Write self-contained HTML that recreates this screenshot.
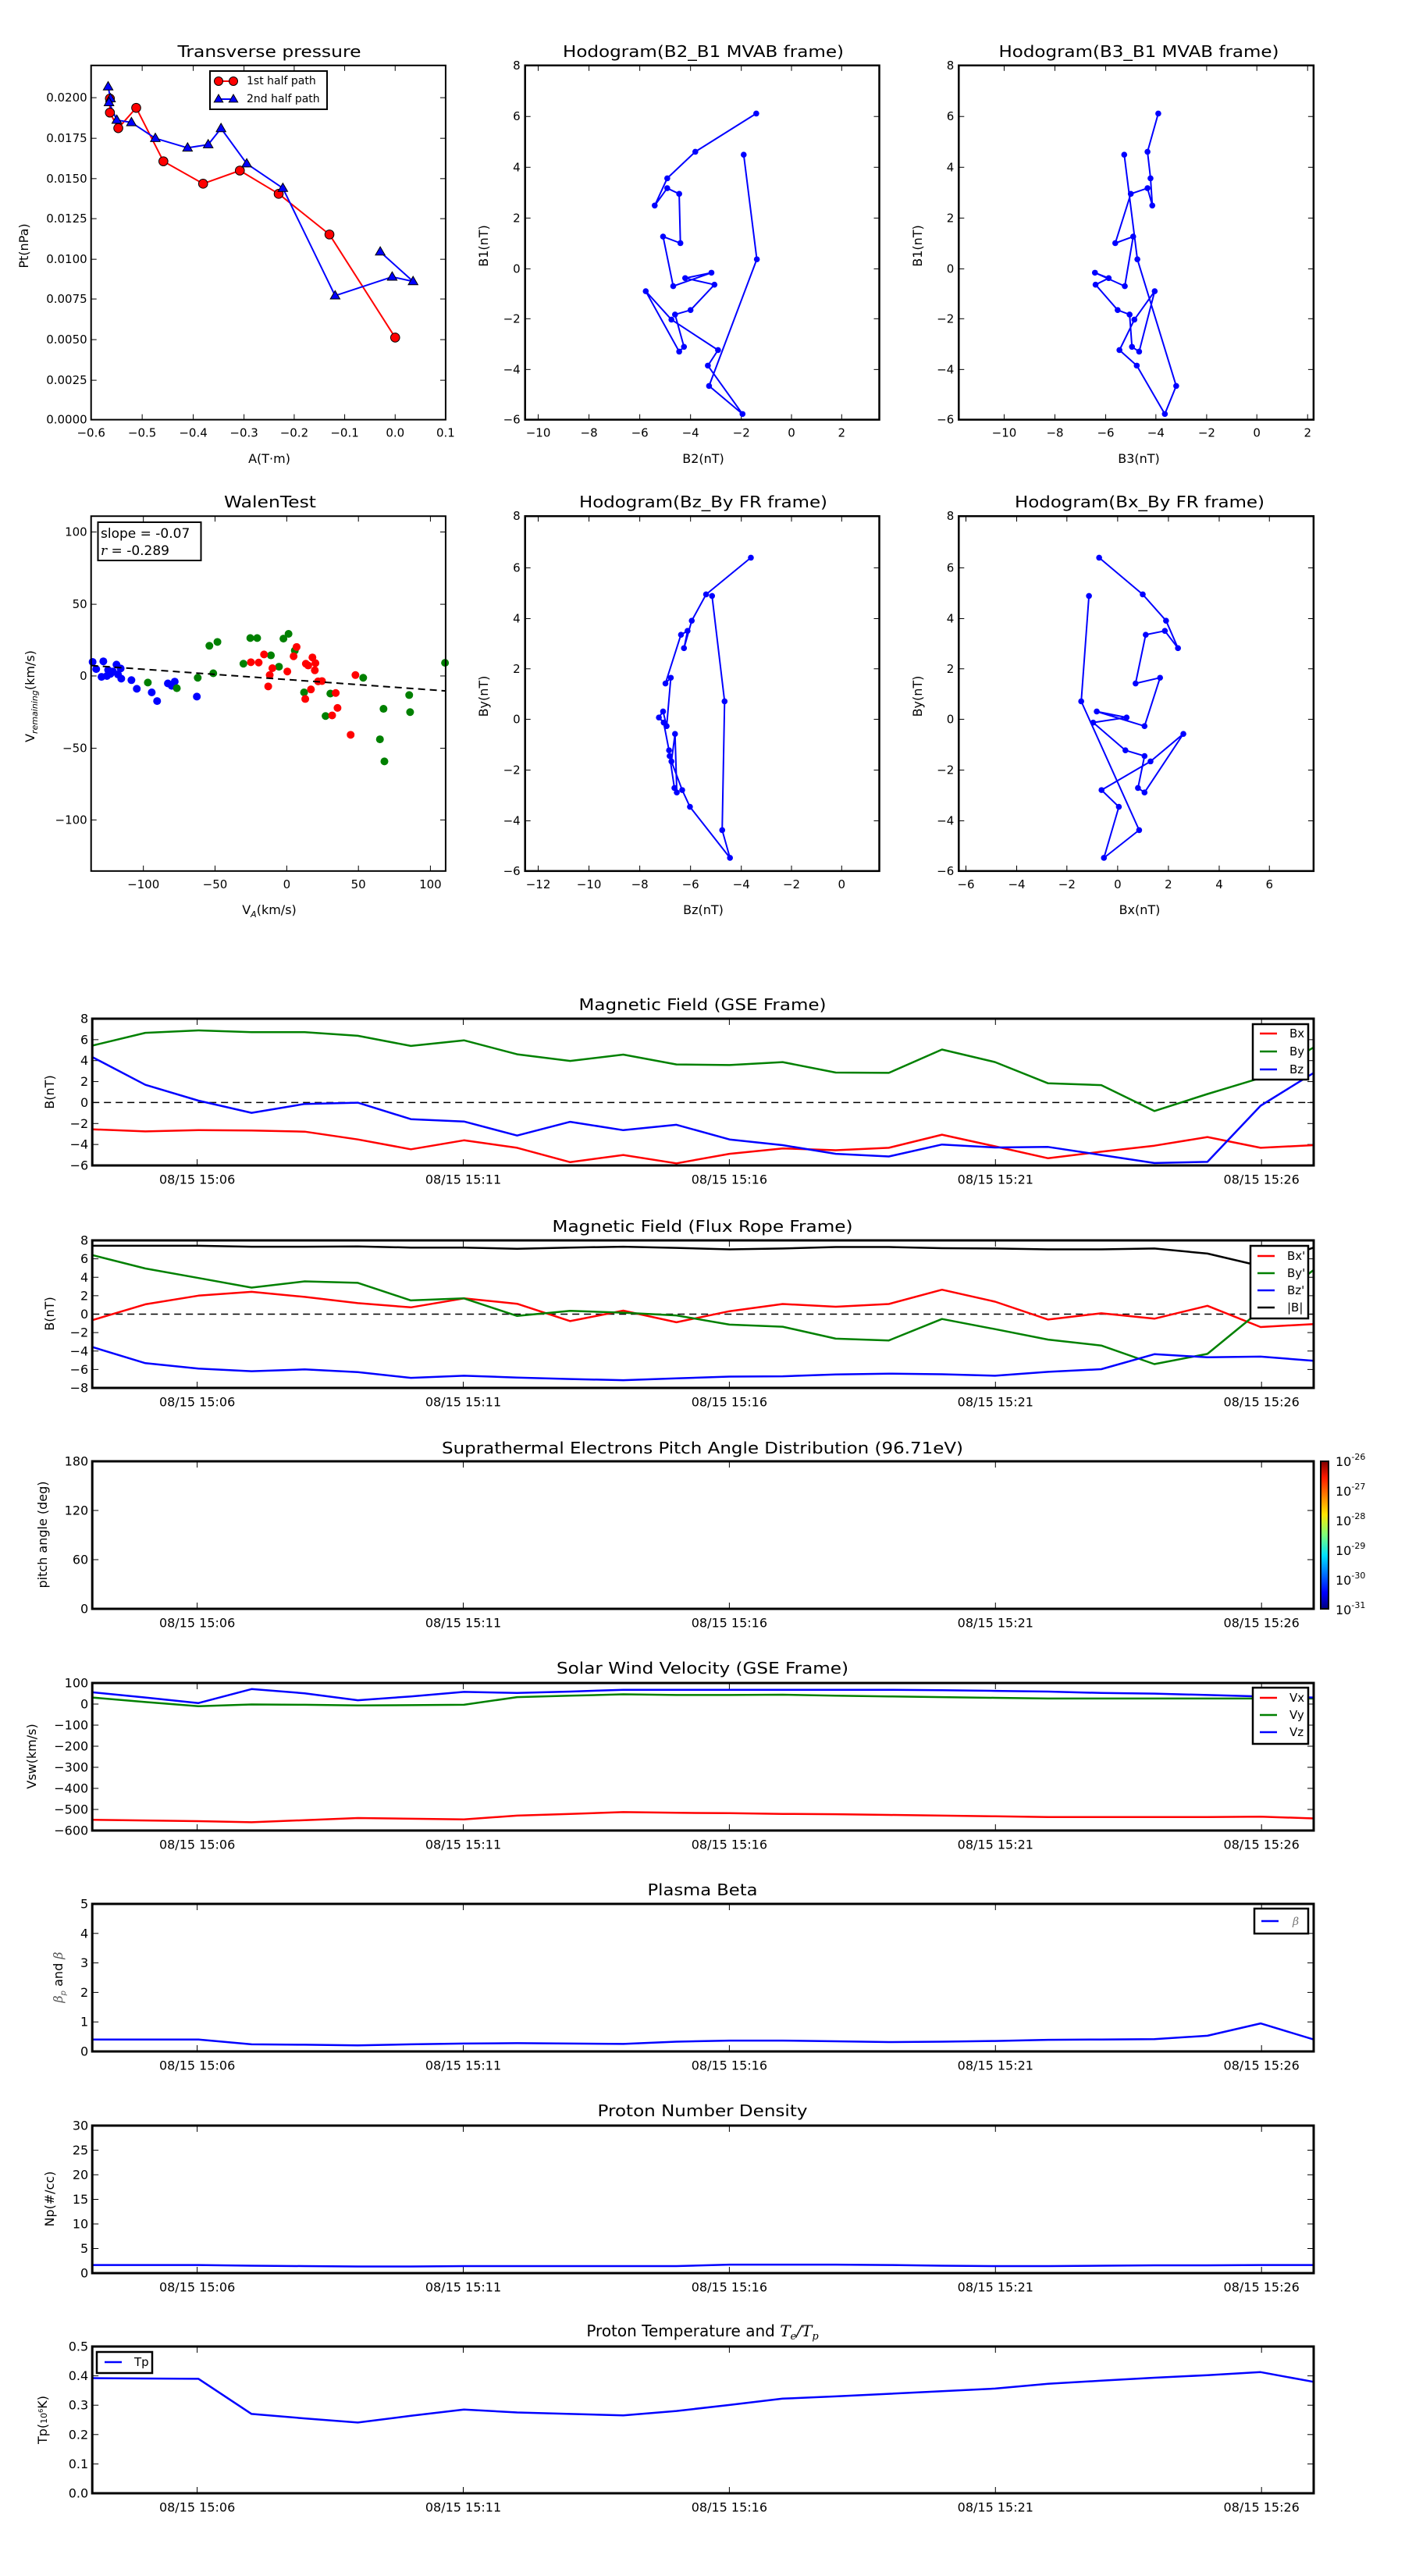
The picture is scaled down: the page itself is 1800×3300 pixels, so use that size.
<!DOCTYPE html>
<html><head><meta charset="utf-8">
<style>html,body{margin:0;padding:0;background:#fff;}svg{display:block;}</style>
</head><body>
<svg id="s" xmlns="http://www.w3.org/2000/svg" width="1800" height="3300" viewBox="0 0 1800 3300">
<defs>
<linearGradient id="jet" x1="0" y1="1" x2="0" y2="0">
<stop offset="0" stop-color="#00007f"/><stop offset="0.11" stop-color="#0000ff"/><stop offset="0.36" stop-color="#00e0ff"/><stop offset="0.5" stop-color="#7dff7a"/><stop offset="0.64" stop-color="#ffe600"/><stop offset="0.89" stop-color="#ff1a00"/><stop offset="1" stop-color="#7f0000"/>
</linearGradient>
</defs>
<rect width="1800" height="3300" fill="#fff"/>
<!-- static titles / labels -->
<g font-family="DejaVu Sans, Liberation Sans, sans-serif" fill="#000" text-anchor="middle">
<text x="345" y="73" font-size="20" textLength="235" lengthAdjust="spacingAndGlyphs">Transverse pressure</text>
<text x="901" y="73" font-size="20" textLength="360" lengthAdjust="spacingAndGlyphs">Hodogram(B2_B1 MVAB frame)</text>
<text x="1459" y="73" font-size="20" textLength="359" lengthAdjust="spacingAndGlyphs">Hodogram(B3_B1 MVAB frame)</text>
<text x="346" y="650" font-size="20" textLength="118" lengthAdjust="spacingAndGlyphs">WalenTest</text>
<text x="901" y="650" font-size="20" textLength="318" lengthAdjust="spacingAndGlyphs">Hodogram(Bz_By FR frame)</text>
<text x="1460" y="650" font-size="20" textLength="320" lengthAdjust="spacingAndGlyphs">Hodogram(Bx_By FR frame)</text>
<text x="900" y="1294" font-size="20" textLength="317" lengthAdjust="spacingAndGlyphs">Magnetic Field (GSE Frame)</text>
<text x="900" y="1578" font-size="20" textLength="385" lengthAdjust="spacingAndGlyphs">Magnetic Field (Flux Rope Frame)</text>
<text x="900" y="1862" font-size="20" textLength="668" lengthAdjust="spacingAndGlyphs">Suprathermal Electrons Pitch Angle Distribution (96.71eV)</text>
<text x="900" y="2144" font-size="20" textLength="374" lengthAdjust="spacingAndGlyphs">Solar Wind Velocity (GSE Frame)</text>
<text x="900" y="2428" font-size="20" textLength="141" lengthAdjust="spacingAndGlyphs">Plasma Beta</text>
<text x="900" y="2711" font-size="20" textLength="269" lengthAdjust="spacingAndGlyphs">Proton Number Density</text>
<text x="900" y="2993" font-size="20">Proton Temperature and <tspan font-family="DejaVu Serif, Liberation Serif, serif" font-style="italic">T</tspan><tspan font-family="DejaVu Serif, Liberation Serif, serif" font-style="italic" font-size="13" dy="4">e</tspan><tspan dy="-4" font-family="DejaVu Serif, Liberation Serif, serif" font-style="italic">/T</tspan><tspan font-family="DejaVu Serif, Liberation Serif, serif" font-style="italic" font-size="13" dy="4">p</tspan></text>
<!-- x labels -->
<text x="345" y="593" font-size="16">A(T·m)</text>
<text x="901" y="593" font-size="16">B2(nT)</text>
<text x="1459" y="593" font-size="16">B3(nT)</text>
<text x="345" y="1171" font-size="16">V<tspan font-size="11" dy="4" font-style="italic">A</tspan><tspan dy="-4">(km/s)</tspan></text>
<text x="901" y="1171" font-size="16">Bz(nT)</text>
<text x="1460" y="1171" font-size="16">Bx(nT)</text>
<!-- y labels -->
<text transform="translate(36,315) rotate(-90)" font-size="16">Pt(nPa)</text>
<text transform="translate(44,892) rotate(-90)" font-size="16">V<tspan font-size="11" dy="4" font-style="italic">remaining</tspan><tspan dy="-4">(km/s)</tspan></text>
<text transform="translate(625,315) rotate(-90)" font-size="16">B1(nT)</text>
<text transform="translate(1181,315) rotate(-90)" font-size="16">B1(nT)</text>
<text transform="translate(625,892) rotate(-90)" font-size="16">By(nT)</text>
<text transform="translate(1181,892) rotate(-90)" font-size="16">By(nT)</text>
<text transform="translate(69,1399) rotate(-90)" font-size="16">B(nT)</text>
<text transform="translate(69,1683) rotate(-90)" font-size="16">B(nT)</text>
<text transform="translate(60,1966) rotate(-90)" font-size="16">pitch angle (deg)</text>
<text transform="translate(46,2250) rotate(-90)" font-size="16">Vsw(km/s)</text>
<text transform="translate(80,2533) rotate(-90)" font-size="16" fill="#555"><tspan font-style="italic" font-family="DejaVu Serif, serif">β</tspan><tspan font-size="10" dy="4" font-style="italic">p</tspan><tspan dy="-4" fill="#000"> and </tspan><tspan font-style="italic" font-family="DejaVu Serif, serif">β</tspan></text>
<text transform="translate(69,2817) rotate(-90)" font-size="16">Np(#/cc)</text>
<text transform="translate(60,3100) rotate(-90)" font-size="16">Tp(<tspan font-size="11">10</tspan><tspan font-size="8" dy="-5">6</tspan><tspan dy="5">K)</tspan></text>
</g>
<!-- walen text box -->
<rect x="125.5" y="669" width="132" height="49" fill="#fff" stroke="#000" stroke-width="2"/>
<text x="129" y="689" font-family="DejaVu Sans, sans-serif" font-size="17">slope = -0.07</text>
<text x="129" y="711" font-family="DejaVu Sans, sans-serif" font-size="17"><tspan font-style="italic" font-family="DejaVu Serif, serif">r</tspan> = -0.289</text>
<!-- colorbar -->
<rect x="1692" y="1872" width="10" height="189" fill="url(#jet)" stroke="#000" stroke-width="2"/>
<g font-family="DejaVu Sans, sans-serif" font-size="16">
<text x="1711" y="1878">10<tspan font-size="11" dy="-8">-26</tspan></text>
<text x="1711" y="1916">10<tspan font-size="11" dy="-8">-27</tspan></text>
<text x="1711" y="1954">10<tspan font-size="11" dy="-8">-28</tspan></text>
<text x="1711" y="1992">10<tspan font-size="11" dy="-8">-29</tspan></text>
<text x="1711" y="2030">10<tspan font-size="11" dy="-8">-30</tspan></text>
<text x="1711" y="2068">10<tspan font-size="11" dy="-8">-31</tspan></text>
</g>
</svg>
<script>
(function(){
var NS="http://www.w3.org/2000/svg",S=document.getElementById('s'),F="DejaVu Sans, Liberation Sans, sans-serif";
function E(t,a,txt){var e=document.createElementNS(NS,t);for(var k in a)e.setAttribute(k,a[k]);if(txt!=null)e.textContent=txt;S.appendChild(e);return e;}
function L(x1,y1,x2,y2,c,w,d){var a={x1:x1,y1:y1,x2:x2,y2:y2,stroke:c||'#000','stroke-width':w||1};if(d)a['stroke-dasharray']=d;return E('line',a);}
function P(pts,c,w,d){var a={points:pts.map(function(p){return p[0].toFixed(1)+','+p[1].toFixed(1)}).join(' '),fill:'none',stroke:c,'stroke-width':w||2,'stroke-linejoin':'round'};if(d)a['stroke-dasharray']=d;return E('polyline',a);}
function T(x,y,s,o){o=o||{};return E('text',{x:x,y:y,'font-family':F,'font-size':o.s||16,'text-anchor':o.a||'middle','dominant-baseline':'central'},s);}
function axes(x0,y0,x1,y1,xt,yt,o){
  var Lt=o.L||7;
  xt.forEach(function(t){L(t[0],y1,t[0],y1-Lt);L(t[0],y0,t[0],y0+Lt);T(t[0],y1+o.xg,t[1],{s:o.s});});
  yt.forEach(function(t){L(x0,t[0],x0+Lt,t[0]);L(x1,t[0],x1-Lt,t[0]);T(o.yr,t[0],t[1],{s:o.s,a:'end'});});
}
function frame(x0,y0,x1,y1,w){E('rect',{x:x0,y:y0,width:x1-x0,height:y1-y0,fill:'none',stroke:'#000','stroke-width':w||2});}

// ---------- Plot 1: Transverse pressure (zoom1 coords /2.6133)
var k1=2.6133;function m1(p){return [p[0]/k1,p[1]/k1];}
var X0=305/k1,Y0=219/k1,X1=1492/k1,Y1=1405/k1;
axes(X0,Y0,X1,Y1,
 [[305,'−0.6'],[476,'−0.5'],[647,'−0.4'],[817,'−0.3'],[985,'−0.2'],[1154,'−0.1'],[1323,'0.0'],[1492,'0.1']].map(function(t){return[t[0]/k1,t[1]]}),
 [[1405,'0.0000'],[1273,'0.0025'],[1137,'0.0050'],[1001,'0.0075'],[868,'0.0100'],[732,'0.0125'],[598,'0.0150'],[463,'0.0175'],[327,'0.0200']].map(function(t){return[t[0]/k1,t[1]]}),
 {xg:17,yr:X0-5,s:15});
var red=[[368,330],[368,377],[396,429],[456,361],[547,540],[680,615],[803,571],[933,649],[1103,785],[1323,1130]].map(m1);
var blu=[[362,290],[370,330],[365,343],[391,402],[440,410],[520,463],[628,495],[697,484],[740,430],[826,548],[947,630],[1122,990],[1313,927],[1383,942],[1273,843]].map(m1);
P(red,'#f00',2);P(blu,'#00f',2);
function circ(x,y,r,c,st){E('circle',{cx:x,cy:y,r:r,fill:c,stroke:st||'none','stroke-width':1});}
function tri(x,y,r,c){E('polygon',{points:[x,y-r,x-r*0.95,y+r*0.65,x+r*0.95,y+r*0.65].join(','),fill:c,stroke:'#000','stroke-width':1});}
red.forEach(function(p){circ(p[0],p[1],5.8,'#f00','#000');});
blu.forEach(function(p){tri(p[0],p[1],6.5,'#00f');});
frame(X0,Y0,X1,Y1,2);
// legend
E('rect',{x:269,y:91,width:150,height:49,fill:'#fff',stroke:'#000','stroke-width':2});
L(280,104,299,104,'#f00',2);circ(280,104,5.5,'#f00','#000');circ(299,104,5.5,'#f00','#000');
L(280,127,299,127,'#00f',2);tri(280,127,6,'#00f');tri(299,127,6,'#00f');
T(316,104,'1st half path',{s:14,a:'start'});T(316,127,'2nd half path',{s:14,a:'start'});

// ---------- Walen (zoom6)
function m6(p){return [p[0]/k1,600+p[1]/k1];}
var WX0=305/k1,WY0=600+160/k1,WX1=1492/k1,WY1=600+1348/k1;
axes(WX0,WY0,WX1,WY1,
 [[480,'−100'],[720,'−50'],[960,'0'],[1200,'50'],[1441,'100']].map(function(t){return[t[0]/k1,t[1]]}),
 [[213,'100'],[455,'50'],[695,'0'],[937,'−50'],[1177,'−100']].map(function(t){return[600+t[0]/k1,t[1]]}),
 {xg:17,yr:WX0-5,s:15});
var wb=[[310,648],[322,672],[346,646],[340,698],[358,695],[362,675],[378,680],[390,657],[404,670],[406,704],[440,709],[458,738],[508,750],[526,779],[562,720],[575,728],[585,714],[659,764],[395,690],[370,688]];
var wg=[[495,717],[592,736],[662,701],[701,594],[728,581],[714,686],[815,654],[838,568],[861,568],[907,626],[934,664],[949,570],[966,554],[987,610],[1018,750],[1090,829],[1106,754],[1216,701],[1284,805],[1272,907],[1287,981],[1370,759],[1373,816],[1490,651]];
var wr=[[840,649],[866,650],[884,623],[898,730],[903,692],[912,669],[962,680],[983,629],[993,598],[1022,772],[1024,654],[1032,660],[1046,633],[1056,652],[1054,676],[1041,740],[1065,713],[1078,712],[1112,827],[1124,752],[1130,802],[1174,892],[1190,692]];
wb.forEach(function(p){p=m6(p);circ(p[0],p[1],5,'#00f');});
wg.forEach(function(p){p=m6(p);circ(p[0],p[1],5,'#008000');});
wr.forEach(function(p){p=m6(p);circ(p[0],p[1],5,'#f00');});
var a=m6([305,660]),b=m6([1492,745]);L(a[0],a[1],b[0],b[1],'#000',2,'9,6');
frame(WX0,WY0,WX1,WY1,2);
E('rect',{x:125.5,y:669,width:132,height:49,fill:'none',stroke:'#000','stroke-width':2});

// ---------- Hodograms
var kx=1.3067;
function hodo(oy,bx0,bx1,by0,by1,xt,yt,pts){
  function m(p){return [600+p[0]/kx,oy+p[1]/k1];}
  var x0=600+bx0/kx,x1=600+bx1/kx,y0=oy+by0/k1,y1=oy+by1/k1;
  axes(x0,y0,x1,y1,xt.map(function(t){return[600+t[0]/kx,t[1]]}),yt.map(function(t){return[oy+t[0]/k1,t[1]]}),{xg:17,yr:x0-6,s:15});
  var pp=pts.map(m);P(pp,'#00f',2);pp.forEach(function(p){circ(p[0],p[1],3.8,'#00f');});
  frame(x0,y0,x1,y1,2.5);
}
var yt1=[[219,'8'],[390,'6'],[560,'4'],[730,'2'],[900,'0'],[1067,'−2'],[1237,'−4'],[1405,'−6']];
hodo(0,95,688,219,1405,[[117,'−10'],[202,'−8'],[287,'−6'],[372,'−4'],[457,'−2'],[541,'0'],[625,'2']],yt1,
 [[482,380],[380,508],[333,597],[312,688],[333,630],[353,649],[355,814],[326,792],[343,958],[407,913],[363,931],[412,953],[372,1038],[346,1053],[361,1161],[353,1177],[297,975],[340,1070],[418,1172],[401,1224],[459,1386],[403,1292],[483,868],[461,518]]);
hodo(0,821,1415,219,1405,[[897,'−10'],[982,'−8'],[1067,'−6'],[1151,'−4'],[1236,'−2'],[1320,'0'],[1405,'2']],yt1,
 [[1155,380],[1137,508],[1142,597],[1145,688],[1137,630],[1109,649],[1083,814],[1113,792],[1099,958],[1049,913],[1072,931],[1050,953],[1087,1038],[1107,1053],[1111,1161],[1123,1177],[1149,975],[1115,1070],[1090,1172],[1119,1224],[1166,1386],[1185,1292],[1120,868],[1098,518]]);
var yt2=[[160,'8'],[333,'6'],[503,'4'],[671,'2'],[840,'0'],[1010,'−2'],[1180,'−4'],[1348,'−6']];
hodo(600,95,688,160,1348,[[117,'−12'],[202,'−10'],[287,'−8'],[372,'−6'],[457,'−4'],[541,'−2'],[625,'0']],yt2,
 [[473,299],[398,422],[374,510],[361,602],[367,544],[356,557],[330,720],[339,701],[332,863],[326,814],[319,834],[327,851],[336,944],[337,963],[345,1070],[349,1085],[346,889],[340,981],[358,1077],[371,1133],[438,1304],[425,1211],[429,780],[408,427]]);
hodo(600,821,1415,160,1348,[[833,'−6'],[918,'−4'],[1002,'−2'],[1087,'0'],[1172,'2'],[1257,'4'],[1341,'6']],yt2,
 [[1056,299],[1129,422],[1168,510],[1188,602],[1166,544],[1134,557],[1117,720],[1158,701],[1132,863],[1052,814],[1102,834],[1046,851],[1100,944],[1132,963],[1121,1070],[1132,1085],[1197,889],[1142,981],[1060,1077],[1089,1133],[1064,1304],[1123,1211],[1026,780],[1039,427]]);

// ---------- Time series
var TX0=118.2,TX1=1683,STEP=(TX1-TX0)/23;
var tt=['08/15 15:06','08/15 15:11','08/15 15:16','08/15 15:21','08/15 15:26'];
function tpanel(top,bot,ymin,ymax,yv,fmt,series,zero,leg){
  function y(v){return bot-(v-ymin)/(ymax-ymin)*(bot-top);}
  var xt=tt.map(function(s,i){return[252.6+340.9*i,s]});
  var yt=yv.map(function(v){return[y(v),fmt(v)]});
  axes(TX0,top,TX1,bot,xt,yt,{xg:18,yr:TX0-5,s:16,L:8});
  if(zero)L(TX0,y(0),TX1,y(0),'#000',1.5,'9,6');
  series.forEach(function(s){P(s.ys.map(function(v,i){return[TX0+STEP*i,s.f(v)]}),s.c,2.5);});
  frame(TX0,top,TX1,bot,3);
  if(leg){E('rect',{x:leg.x,y:leg.y,width:leg.w,height:leg.h,fill:'#fff',stroke:'#000','stroke-width':2.5});
    leg.items.forEach(function(it,i){var yy=leg.y0+i*leg.dy;L(leg.lx,yy,leg.lx+22,yy,it[1],2.5);T(leg.lx+38,yy,it[0],{s:15,a:'start'});});}
}
function neg(v){return (v<0?'−':'')+Math.abs(v);}
function z2(d){return 1250+d/2.6133;} function z3(d){return 1850+d/2.24;} function z4(d){return 2550+d/2.0907;}
function id(v){return v;}
tpanel(1305,1493,-6,8,[8,6,4,2,0,-2,-4,-6],neg,[
 {c:'#f00',f:z2,ys:[514,521,517,518,522,548,581,551,576,624,600,628,596,578,584,576,532,571,611,589,569,540,576,567]},
 {c:'#008000',f:z2,ys:[234,191,183,189,189,201,235,216,263,285,264,297,299,289,324,325,247,289,360,366,453,396,342,240]},
 {c:'#00f',f:z2,ys:[272,365,418,459,429,425,480,488,535,489,517,499,548,567,596,605,565,575,573,600,627,623,435,325]}],true,
 {x:1605,y:1312,w:71,h:71,lx:1614,y0:1324,dy:23,items:[['Bx','#f00'],['By','#008000'],['Bz','#00f']]});
tpanel(1589,1778,-8,8,[8,6,4,2,0,-2,-4,-6,-8],neg,[
 {c:'#000',f:z2,ys:[904,904,904,907,907,906,910,910,914,910,907,911,916,913,908,908,912,913,916,916,913,930,972,910]},
 {c:'#f00',f:z2,ys:[1153,1100,1071,1058,1075,1096,1110,1080,1098,1156,1121,1160,1123,1099,1108,1099,1051,1091,1151,1130,1148,1105,1176,1166]},
 {c:'#008000',f:z2,ys:[935,980,1012,1044,1023,1028,1087,1080,1139,1122,1128,1137,1168,1175,1215,1221,1149,1183,1218,1238,1300,1266,1120,985]},
 {c:'#00f',f:z2,ys:[1243,1297,1315,1324,1318,1327,1346,1339,1345,1350,1354,1348,1342,1341,1335,1332,1334,1339,1326,1317,1267,1277,1275,1289]}],true,
 {x:1602,y:1596,w:74,h:93,lx:1611,y0:1609,dy:22,items:[["Bx'",'#f00'],["By'",'#008000'],["Bz'",'#00f'],['|B|','#000']]});
tpanel(1872,2061,0,180,[0,60,120,180],String,[],false,null);
tpanel(2156,2345,-600,100,[100,0,-100,-200,-300,-400,-500,-600],neg,[
 {c:'#f00',f:z3,ys:[1078,1080,1082,1085,1079,1073,1075,1077,1066,1061,1056,1058,1059,1061,1062,1064,1066,1068,1070,1070,1070,1070,1069,1074]},
 {c:'#008000',f:z3,ys:[727,740,752,747,748,750,749,748,726,722,718,720,720,719,722,724,726,728,730,730,730,730,730,730]},
 {c:'#00f',f:z3,ys:[712,727,743,703,715,735,724,711,714,710,705,705,705,705,705,705,706,708,710,714,716,720,724,727]}],false,
 {x:1605,y:2162,w:71,h:72,lx:1614,y0:2175,dy:22,items:[['Vx','#f00'],['Vy','#008000'],['Vz','#00f']]});
tpanel(2439,2628,0,5,[0,1,2,3,4,5],String,[
 {c:'#00f',f:z4,ys:[131,131,131,144,145,147,144,142,141,142,143,137,134,134,136,138,137,135,132,131,130,121,88,131]}],false,null);
E('rect',{x:1607,y:2445,width:69,height:32,fill:'#fff',stroke:'#000','stroke-width':2.5});
L(1616,2461,1638,2461,'#00f',2.5);
E('text',{x:1656,y:2466,'font-family':'DejaVu Serif, serif','font-style':'italic','font-size':14,fill:'#777'},'β').appendChild(document.createElementNS(NS,'tspan'));
tpanel(2723,2912,0,30,[0,5,10,15,20,25,30],String,[
 {c:'#00f',f:z4,ys:[735,735,735,737,738,739,739,738,738,738,738,738,734,734,734,735,737,738,738,737,736,736,735,735]}],false,null);
tpanel(3006,3194,0,0.5,[0,0.1,0.2,0.3,0.4,0.5],function(v){return v.toFixed(1)},[
 {c:'#00f',f:z4,ys:[1038,1039,1040,1134,1146,1157,1139,1122,1130,1134,1138,1126,1110,1093,1087,1080,1073,1066,1053,1045,1037,1030,1022,1048]}],false,null);
E('rect',{x:124,y:3013,width:71,height:27,fill:'#fff',stroke:'#000','stroke-width':2.5});
L(134,3026,156,3026,'#00f',2.5);T(172,3026,'Tp',{s:15,a:'start'});
})();
</script>
</body></html>
